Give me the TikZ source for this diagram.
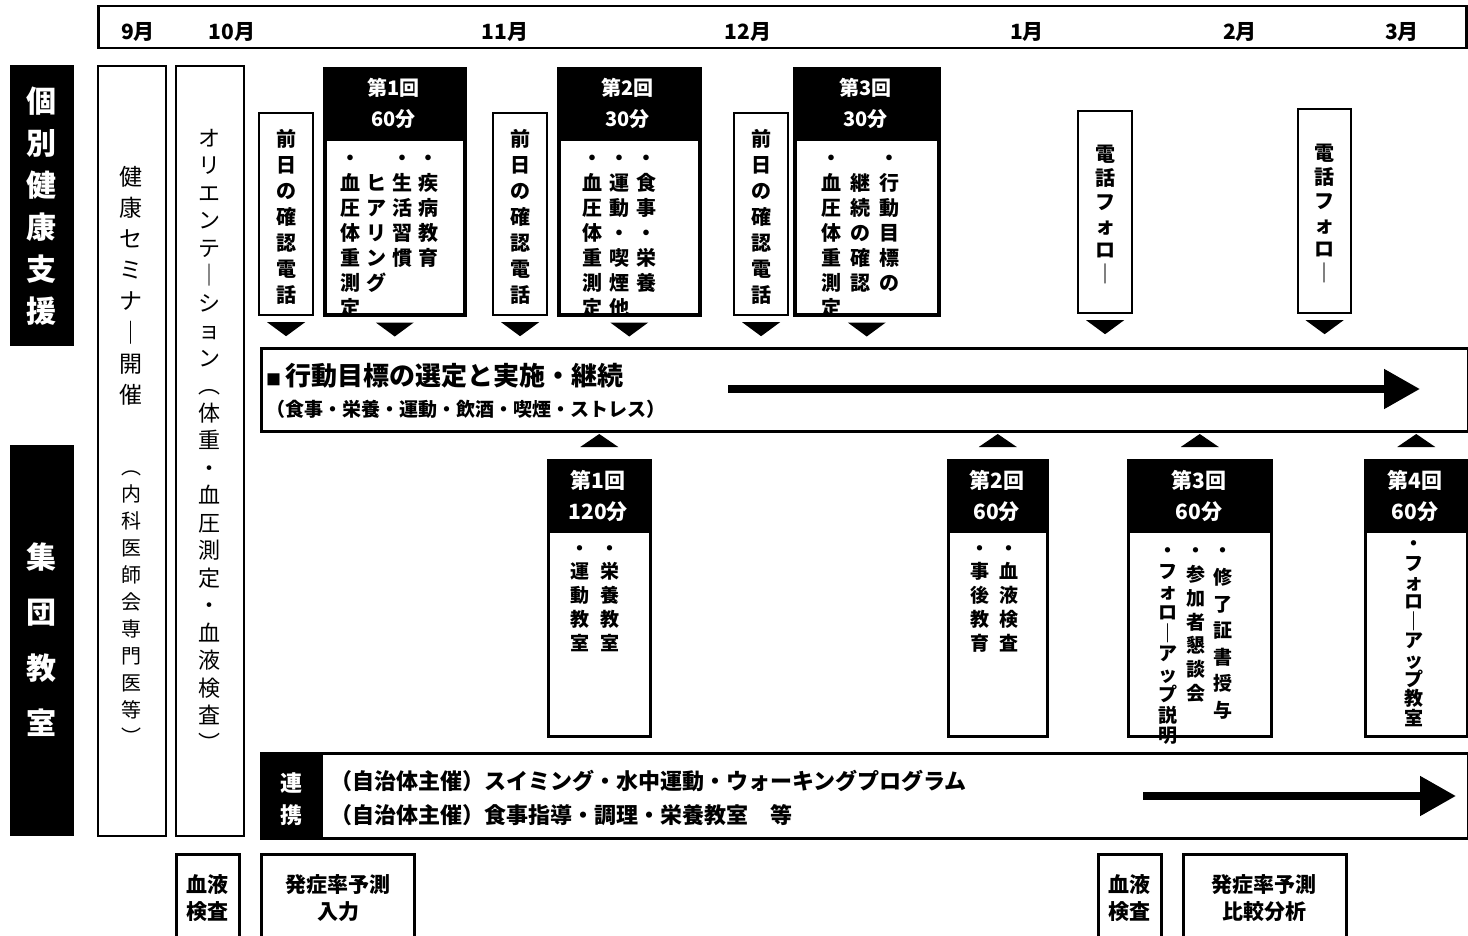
\documentclass[tikz,border=0pt]{standalone}
\usepackage{fontspec}
\setmainfont{Noto Sans CJK JP}
\usetikzlibrary{calc,arrows.meta}
\newcommand\fsz[1]{\fontsize{#1}{#1}\selectfont}
% vertical stack of glyphs; optional arg = pitch in em
\newcommand\vst[2][1.25]{\vtop{\offinterlineskip\def\vpf{#1}\vstloop#2\relax}}
\def\vstloop#1{\ifx\relax#1\else\hbox to 1em{\hss\vrule height \dimexpr\vpf em-0.15em\relax depth 0.15em width 0pt\relax#1\hss}\expandafter\vstloop\fi}
\def\vsp{}
\tikzset{
  frame/.style={draw=black, line width=#1, anchor=north west, inner sep=0pt},
  frame/.default=2.5pt,
  hdr/.style={fill=black, draw=black, anchor=north west, inner sep=0pt},
  mon/.style={font=\bfseries\fsz{21}},
  vbold/.style={font=\bfseries\fsz{20}},
  shead/.style={text=white, font=\bfseries\fontsize{20}{31}\selectfont, align=center},
  ghead/.style={text=white, font=\bfseries\fontsize{21}{31}\selectfont, align=center},
  gbody/.style={font=\bfseries\fsz{19}, anchor=north},
  sbody/.style={font=\bfseries\fsz{20}, anchor=north},
  btxt/.style={font=\bfseries\fontsize{21}{27}\selectfont, align=center},
  bigarrow/.style={line width=8pt, -{Triangle[length=36pt,width=38pt]}},
}
\begin{document}
\begin{tikzpicture}[x=1pt,y=-1pt, every node/.style={inner sep=0pt}]
\useasboundingbox[fill=white] (0,0) rectangle (1468,936);

% month bar
\node[frame=2.5pt, minimum width=1368pt, minimum height=42pt] (months) at (97,5) {};
\foreach \m/\x [count=\i] in {9月/138,10月/232,11月/505,12月/748,1月/1027,2月/1240,3月/1402}
  \node[mon] (m\i) at (\x,32) {\m};

% left labels
\node[hdr, minimum width=63pt, minimum height=280pt] (lab1) at (10,65) {};
\node[text=white, font=\bfseries\fsz{30}] (lab1t) at ($(lab1.center)+(0,-4)$) {\vst[1.4]{個別健康支援}};
\node[hdr, minimum width=63pt, minimum height=390pt] (lab2) at (10,445) {};
\node[text=white, font=\bfseries\fsz{30}] (lab2t) at ($(lab2.center)+(0,-12)$) {\vst[1.85]{集団教室}};

% seminar & orientation columns
\node[frame=2pt, minimum width=68pt, minimum height=770pt] (sem) at (97,65) {};
\node[font=\fsz{23}, anchor=north] (semt1) at (131,158) {\vst[1.35]{健康セミナ｜開催}};
\node[font=\fsz{20}, anchor=north] (semt2) at (131,450) {\vst[1.35]{︵内科医師会専門医等︶}};
\node[frame=2pt, minimum width=68pt, minimum height=770pt] (ori) at (175,65) {};
\node[font=\fsz{22}, anchor=north] (orit) at (209,122) {\vst[1.25]{オリエンテ｜ション︵体重・血圧測定・血液検査︶}};

% individual support: phone-call boxes
\foreach \n/\x in {p1/258,p2/492,p3/733}{
  \node[frame=2.2pt, minimum width=54pt, minimum height=202pt] (\n) at (\x,112) {};
  \node[vbold] (\n t) at (\n.center) {\vst[1.3]{前日の確認電話}};
}
% sessions
\node[sbody] (s1b) at (389,143) {\vst{・血圧体重測定}\kern6pt\vst{\vsp ヒアリング}\kern6pt\vst{・生活習慣}\kern6pt\vst{・疾病教育}};
\node[sbody] (s2b) at (619.5,143) {\vst{・血圧体重測定}\kern7pt\vst{・運動・喫煙他}\kern7pt\vst{・食事・栄養}};
\node[sbody] (s3b) at (860.5,143) {\vst{・血圧体重測定}\kern9pt\vst{\vsp 継続の確認}\kern9pt\vst{・行動目標の}};
\foreach \n/\x/\w/\t in {s1/323/140/{第1回\\60分},s2/557/141/{第2回\\30分},s3/793/144/{第3回\\30分}}{
  \node[frame=3.5pt, minimum width=\w pt, minimum height=246pt] (\n) at (\x,67) {};
  \node[hdr, minimum width=\w pt, minimum height=73pt] (\n h) at (\x,67) {};
  \node[shead] (\n ht) at (\n h.center) {\t};
}
% phone follow-up
\node[frame=2.2pt, minimum width=54pt, minimum height=202pt] (t1) at (1077,110) {};
\node[vbold] (t1t) at (t1.center) {\vst[1.2]{電話フォロ｜}};
\node[frame=2.2pt, minimum width=53pt, minimum height=204pt] (t2) at (1297,108) {};
\node[vbold] (t2t) at (t2.center) {\vst[1.2]{電話フォロ｜}};

\foreach \n in {p1,s1,p2,s2,p3,s3,t1,t2}
  \fill[black] ($(\n.south)+(-19,6)$) -- ($(\n.south)+(19,6)$) -- ($(\n.south)+(0,20)$) -- cycle;

% goal bar
\node[frame=3pt, minimum width=1207pt, minimum height=83pt] (goal) at (260,347) {};
\node[anchor=west, font=\bfseries\fsz{26}] (goal1) at (266,376) {{\fsz{15}■}\,行動目標の選定と実施・継続};
\node[anchor=west, font=\bfseries\fsz{19}] (goal2) at (266,409) {（食事・栄養・運動・飲酒・喫煙・ストレス）};
\coordinate (ga1) at (728,389);
\coordinate (ga2) at (1420,389);
\draw[bigarrow] (ga1) -- (ga2);

% group classes
\node[gbody] (g1b) at (595,534) {\vst{・運動教室}\kern11pt\vst{・栄養教室}};
\node[gbody] (g2b) at (994.5,534) {\vst{・事後教育}\kern10pt\vst{・血液検査}};
\node[gbody] (g3b) at (1195,534) {\vst[1.08]{・フォロ｜アップ説明}\kern9pt\vst{・参加者懇談会}\kern8pt\vst[1.4]{・修了証書授与}};
\node[gbody] (g4b) at (1414,534) {\vst[1.02]{・フォロ｜アップ教室}};
\foreach \n/\x/\w/\t in {g1/547/102/{第1回\\120分},g2/947/99/{第2回\\60分},g3/1127/143/{第3回\\60分},g4/1364/102/{第4回\\60分}}{
  \node[frame=2.5pt, minimum width=\w pt, minimum height=276pt] (\n) at (\x,459) {};
  \node[hdr, minimum width=\w pt, minimum height=73pt] (\n h) at (\x,459) {};
  \node[ghead] (\n ht) at (\n h.center) {\t};
}
\foreach \n in {g1,g2,g3,g4}
  \fill[black] ($(\n.north)+(-19,-12)$) -- ($(\n.north)+(19,-12)$) -- ($(\n.north)+(0,-25)$) -- cycle;

% cooperation bar
\node[frame=3pt, minimum width=1207pt, minimum height=85pt] (coop) at (260,752) {};
\node[hdr, minimum width=62pt, minimum height=85pt] (coopl) at (260,752) {};
\node[text=white, font=\bfseries\fsz{22}] (coopt) at (coopl.center) {\vst[1.45]{連携}};
\node[anchor=west, font=\bfseries\fsz{22}] (c1) at (330,781) {（自治体主催）スイミング・水中運動・ウォーキングプログラム};
\node[anchor=west, font=\bfseries\fsz{22}] (c2) at (330,815) {（自治体主催）食事指導・調理・栄養教室　等};
\coordinate (ca1) at (1143,796);
\coordinate (ca2) at (1456,796);
\draw[bigarrow] (ca1) -- (ca2);

% bottom boxes
\node[frame=3pt, minimum width=63pt, minimum height=100pt] (b1) at (175,853) {};
\node[btxt] (b1t) at (207,898) {血液\\検査};
\node[frame=3pt, minimum width=153pt, minimum height=100pt] (b2) at (260,853) {};
\node[btxt] (b2t) at (338,898) {発症率予測\\入力};
\node[frame=3pt, minimum width=63pt, minimum height=100pt] (b3) at (1097,853) {};
\node[btxt] (b3t) at (1129,898) {血液\\検査};
\node[frame=3pt, minimum width=163pt, minimum height=100pt] (b4) at (1182,853) {};
\node[btxt] (b4t) at (1264,898) {発症率予測\\比較分析};
\end{tikzpicture}
\end{document}
